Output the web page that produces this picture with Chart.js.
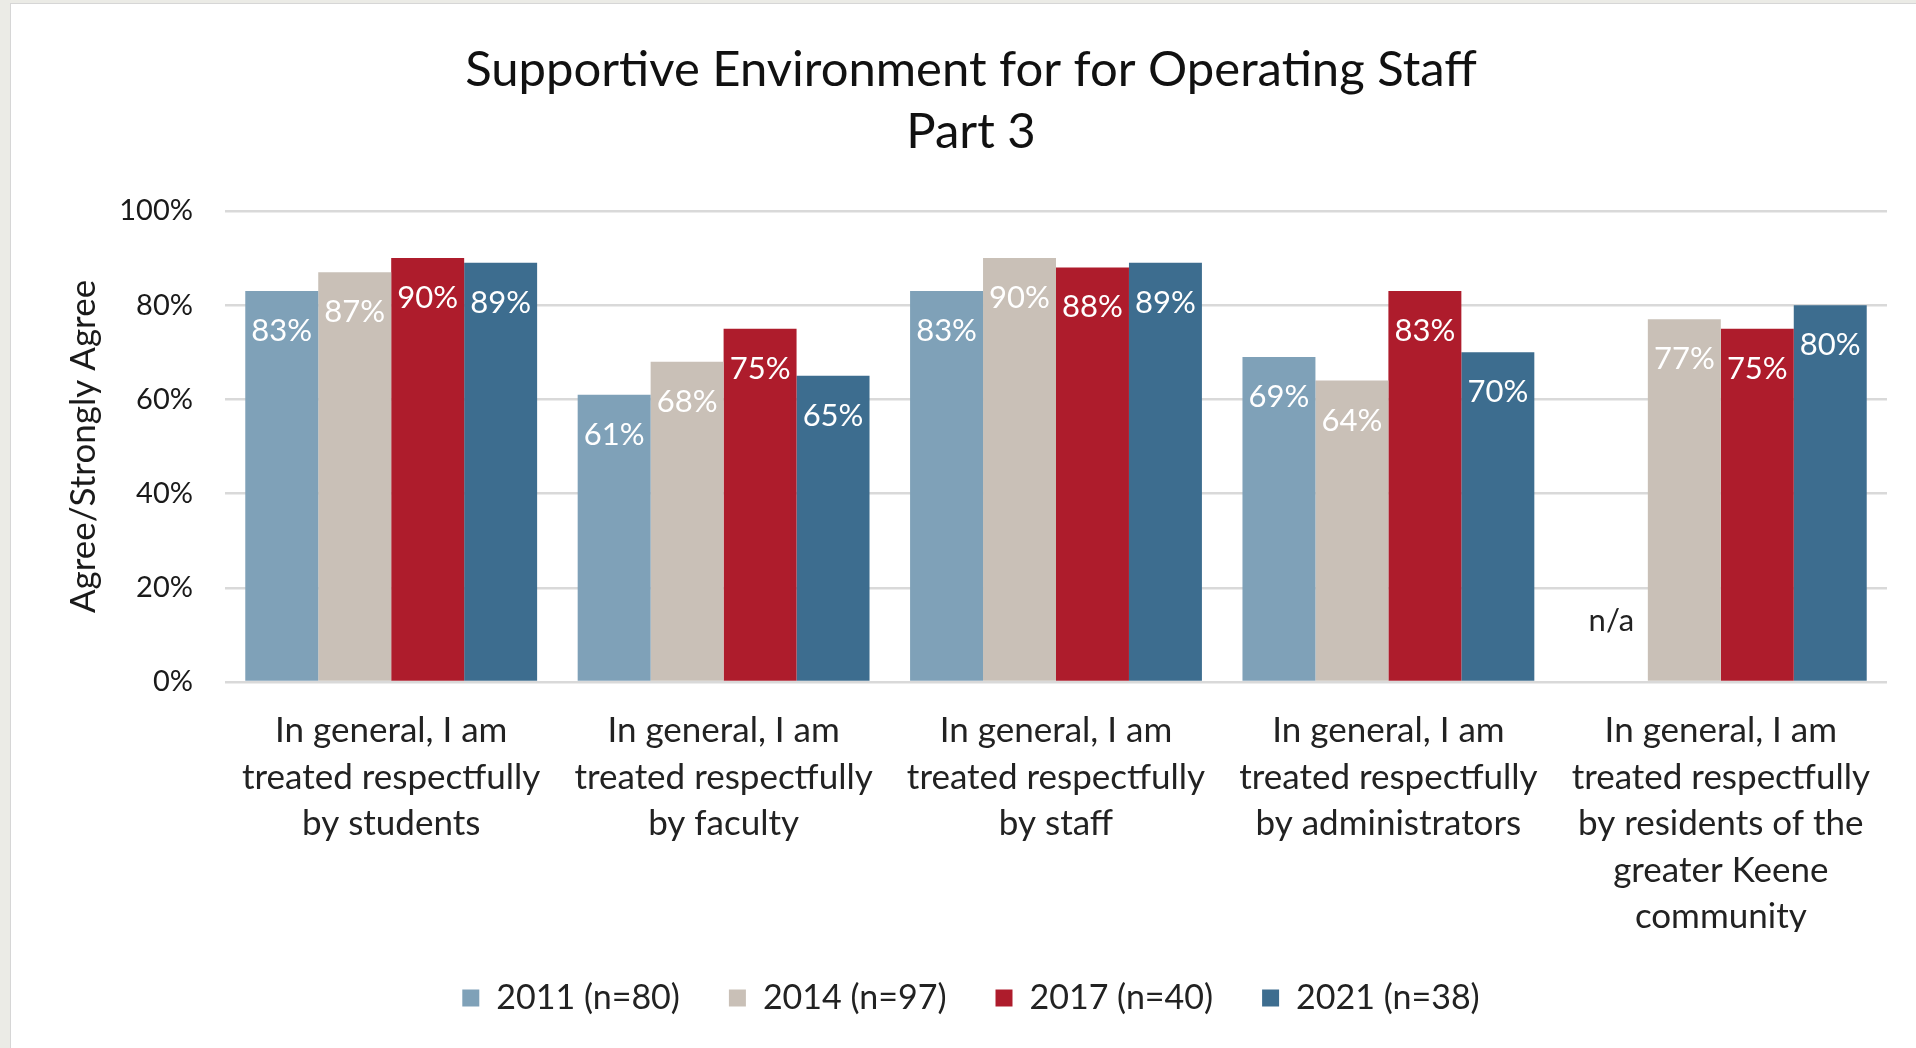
<!DOCTYPE html>
<html>
<head>
<meta charset="utf-8">
<script src="https://cdn.jsdelivr.net/npm/chart.js@4.4.1/dist/chart.umd.min.js"></script>
<style>
    html, body { margin: 0; padding: 0; overflow: hidden; background: #ebebe6; }
    #panel {
        position: absolute;
        left: 10px;
        top: 3px;
        width: 1940px;
        height: 1100px;
        background: #fff;
        border: 1px solid #d6d6d6;
    }
    canvas { display: block; }
</style>
</head>
<body>
<div id="panel"><canvas id="respect-chart" width="1920" height="1021"></canvas></div>
<script>
const categories = [
    ['In general, I am', 'treated respectfully', 'by students'],
    ['In general, I am', 'treated respectfully', 'by faculty'],
    ['In general, I am', 'treated respectfully', 'by staff'],
    ['In general, I am', 'treated respectfully', 'by administrators'],
    ['In general, I am', 'treated respectfully', 'by residents of the', 'greater Keene', 'community']
];
const seriesNames = ['2011 (n=80)', '2014 (n=97)', '2017 (n=40)', '2021 (n=38)'];
const values2011 = [83, 61, 83, 69, null];
const values2014 = [87, 68, 90, 64, 77];
const values2017 = [90, 75, 88, 83, 75];
const values2021 = [89, 65, 89, 70, 80];
const yTicks = [0, 20, 40, 60, 80, 100];

const colors = ['#7fa1b8', '#c9c0b7', '#ae1c2c', '#3d6d8f'];
const FONT = 'Lato, "Open Sans", sans-serif';

// percentage labels inside the top of each bar, "n/a" where there is no value
const barLabels = {
    id: 'barLabels',
    afterDatasetsDraw(chart) {
        const ctx = chart.ctx;
        const y0 = chart.scales.y.getPixelForValue(0);
        ctx.save();
        ctx.font = '31px ' + FONT;
        ctx.textAlign = 'center';
        ctx.textBaseline = 'middle';
        chart.data.datasets.forEach((ds, i) => {
            chart.getDatasetMeta(i).data.forEach((bar, j) => {
                const v = ds.data[j];
                if (v === null) {
                    ctx.fillStyle = '#222';
                    ctx.fillText('n/a', bar.x, y0 - 61);
                } else {
                    ctx.fillStyle = '#fff';
                    ctx.fillText(v + '%', bar.x, bar.y + 40);
                }
            });
        });
        ctx.restore();
    }
};

const ctx = document.getElementById('respect-chart');

new Chart(ctx, {
    type: 'bar',
    data: {
        labels: categories,
        datasets: [values2011, values2014, values2017, values2021].map((vals, i) => ({
            label: seriesNames[i],
            data: vals,
            backgroundColor: colors[i],
            borderWidth: 0,
            categoryPercentage: 0.878,
            barPercentage: 1
        }))
    },
    options: {
        responsive: false,
        animation: false,
        layout: {
            padding: { left: 44, right: 44, top: 0, bottom: 0 }
        },
        scales: {
            x: {
                afterFit: scale => { scale.height = 250; },
                grid: { display: false, drawTicks: false },
                border: { display: false },
                ticks: {
                    autoSkip: false,
                    maxRotation: 0,
                    padding: 26,
                    color: '#222',
                    font: { family: FONT, size: 35, lineHeight: 1.326 }
                }
            },
            y: {
                min: 0,
                max: 100,
                afterFit: scale => { scale.width = 170; },
                afterBuildTicks: scale => {
                    scale.ticks = yTicks.map(v => ({ value: v }));
                },
                grid: { color: '#d9d9d9', lineWidth: 2.5, drawTicks: false },
                border: { display: false },
                ticks: {
                    padding: 32,
                    color: '#1a1a1a',
                    font: { family: FONT, size: 29 },
                    callback: value => value + '%'
                },
                title: {
                    display: true,
                    text: 'Agree/Strongly Agree',
                    color: '#1a1a1a',
                    padding: { top: 8, bottom: 10 },
                    font: { family: FONT, size: 35 }
                }
            }
        },
        plugins: {
            title: {
                display: true,
                text: ['Supportive Environment for for Operating Staff', 'Part 3'],
                color: '#111',
                padding: { top: 35, bottom: 48 },
                font: { family: FONT, size: 49, weight: 'normal', lineHeight: 1.265 }
            },
            legend: {
                position: 'bottom',
                labels: {
                    boxWidth: 17,
                    boxHeight: 17,
                    padding: 49,
                    color: '#222',
                    font: { family: FONT, size: 34 }
                }
            },
            tooltip: { enabled: false }
        }
    },
    plugins: [barLabels]
});
</script>
</body>
</html>
